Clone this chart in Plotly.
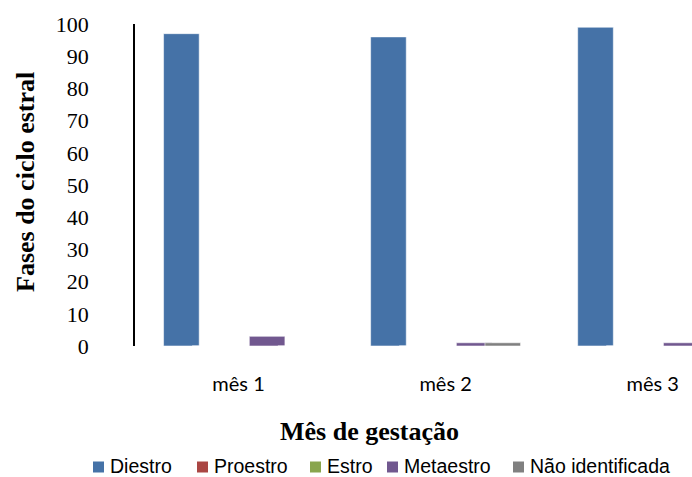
import plotly.graph_objects as go

# Percentage of each oestrous-cycle phase per month of gestation
months = ["mês 1", "mês 2", "mês 3"]
diestro = [97, 96, 99]
proestro = [0, 0, 0]
estro = [0, 0, 0]
metaestro = [3, 1, 1]
nao_identificada = [0, 1, 0]

series_names = ["Diestro", "Proestro", "Estro", "Metaestro", "Não identificada"]
series_values = [diestro, proestro, estro, metaestro, nao_identificada]
series_colors = ["#4572A7", "#AA4643", "#89A54E", "#71588F", "#808080"]
y_ticks = list(range(0, 101, 10))

x_pos = list(range(len(months)))
bar_width = 0.172
bar_step = 0.138
first_offset = -(bar_step * (len(series_names) - 1) + bar_width) / 2

fig = go.Figure()
for i, (name, vals, col) in enumerate(zip(series_names, series_values, series_colors)):
    fig.add_trace(go.Bar(
        x=x_pos, y=vals, name=name, showlegend=False,
        width=bar_width, offset=first_offset + i * bar_step,
        marker=dict(color=col, line=dict(color="rgba(255,255,255,0.55)", width=1)),
    ))

W, H = 692, 477
ml, mt, mb = 135, 24, 131
plot_h = H - mt - mb
plot_w = W - ml

def px_x(px):
    return (px - ml) / plot_w

def px_y(py):
    return (H - mb - py) / plot_h

serif = "Liberation Serif, Times New Roman, serif"
sans = "Liberation Sans, Arial, sans-serif"

annotations = [
    dict(text="<b>Mês de gestação</b>", xref="paper", yref="paper",
         x=px_x(369.5), y=px_y(431), xanchor="center", yanchor="middle",
         showarrow=False, font=dict(family=serif, size=26, color="#000000")),
    dict(text="<b>Fases do ciclo estral</b>", xref="paper", yref="paper",
         x=px_x(25), y=px_y(182), xanchor="center", yanchor="middle",
         textangle=-90, showarrow=False, font=dict(family=serif, size=26, color="#000000")),
]
shapes = []

# Legend row: a coloured square followed by the series name
legend_square_left = [93, 197, 310, 387, 513]
legend_text_gap = 15
legend_square = 11
legend_mid = 466
for name, col, left in zip(series_names, series_colors, legend_square_left):
    shapes.append(dict(
        type="rect", xref="paper", yref="paper",
        x0=px_x(left), x1=px_x(left + legend_square),
        y0=px_y(legend_mid + legend_square / 2 + 1), y1=px_y(legend_mid - legend_square / 2 + 1),
        fillcolor=col, line=dict(width=0),
    ))
    annotations.append(dict(
        text=name, xref="paper", yref="paper",
        x=px_x(left + legend_text_gap), y=px_y(legend_mid),
        xanchor="left", yanchor="middle", showarrow=False,
        font=dict(family=sans, size=19.5, color="#000000"),
    ))

fig.update_layout(
    width=W, height=H,
    margin=dict(l=ml, r=0, t=mt, b=mb, pad=0),
    paper_bgcolor="white", plot_bgcolor="white",
    barmode="overlay",
    showlegend=False,
    xaxis=dict(
        range=[-0.5, 2.19], tickmode="array", tickvals=x_pos, ticktext=months,
        showline=False, showgrid=False, zeroline=False, ticks="",
        tickfont=dict(family="Lato, sans-serif", size=20, color="#000000"),
        ticklabelstandoff=24,
    ),
    yaxis=dict(
        range=[0, 100], tickmode="array", tickvals=y_ticks,
        showline=True, linecolor="#000000", linewidth=1.5,
        showgrid=False, zeroline=False, ticks="",
        tickfont=dict(family=serif, size=22, color="#000000"),
        ticklabelstandoff=40,
    ),
    annotations=annotations,
    shapes=shapes,
)

fig.write_html("out.html")
